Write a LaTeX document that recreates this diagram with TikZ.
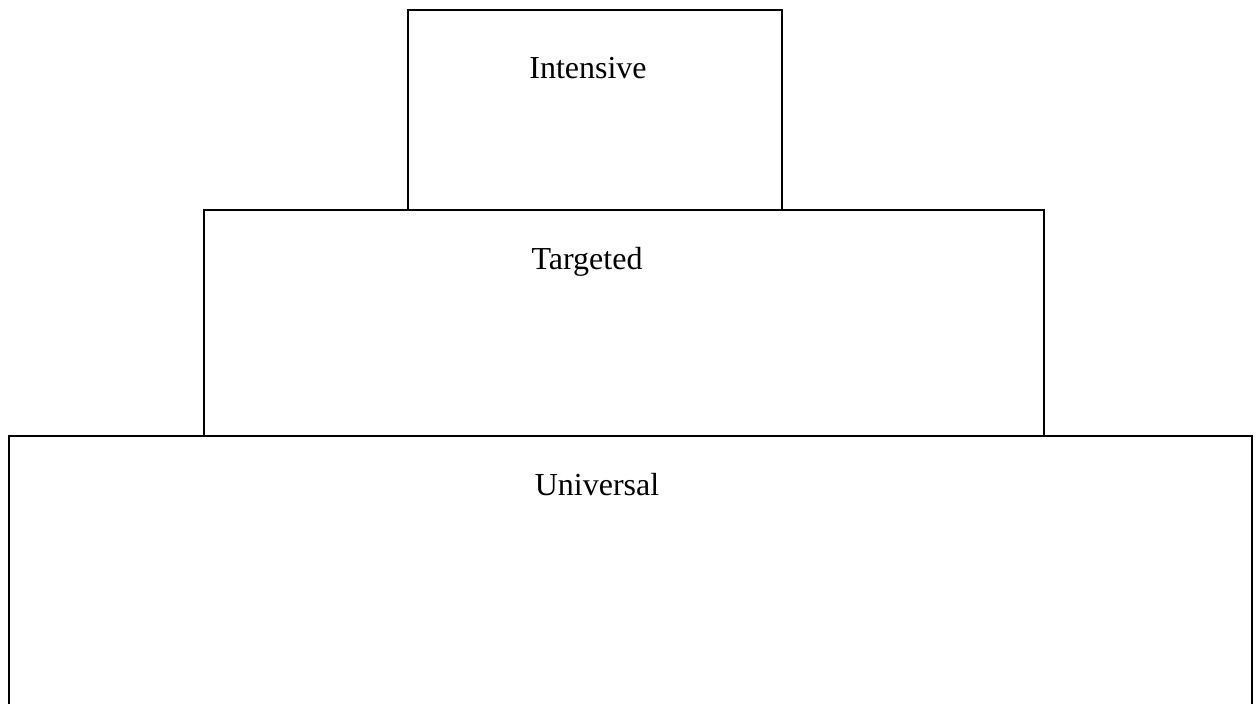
\documentclass[tikz,border=0pt]{standalone}
\usepackage{fontspec}
\setmainfont{Liberation Serif}
\begin{document}
\begin{tikzpicture}[x=0.375pt,y=-0.375pt,
  tier/.style={draw=black,line width=0.75pt},
  lbl/.style={font=\fontsize{12}{14}\selectfont,anchor=base,inner sep=0pt}]
\useasboundingbox[fill=white] (0,0) rectangle (1257,704);
% Universal (bottom edge cut off by the page)
\coordinate (uBL) at (8.5,705);
\coordinate (uTL) at (8.5,436);
\coordinate (uTR) at (1251.5,436);
\coordinate (uBR) at (1251.5,705);
\draw[tier] (uBL) -- (uTL) -- (uTR) -- (uBR);
% Targeted
\coordinate (tBL) at (204,436);
\coordinate (tTR) at (1044,210.5);
\draw[tier] (tBL) |- (tTR) -- (tTR |- tBL);
% Intensive
\coordinate (iBL) at (408,210.5);
\coordinate (iTR) at (782,10.5);
\draw[tier] (iBL) |- (iTR) -- (iTR |- iBL);
\node[lbl] (intensive) at (588,79) {Intensive};
\node[lbl] (targeted) at (587,270) {Targeted};
\node[lbl] (universal) at (597,495) {Universal};
\end{tikzpicture}
\end{document}
